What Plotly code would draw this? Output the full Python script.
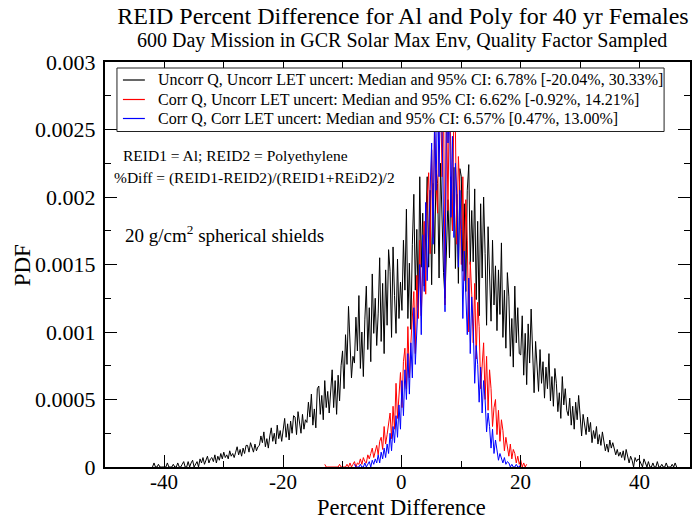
import numpy as np
import plotly.graph_objects as go

# ---------------- data (PDF values in units of 1e-5, histogram bins of 0.25 %) ----------------
BIN_WIDTH = 0.25

black_x0 = -42.0
black_pdf_1e5 = [
    0, 3, 0, 0, 2, 0, 0, 0,
    0, 0, 3, 0, 0, 0, 2, 0,
    0, 3, 0, 0, 2, 4, 0, 0,
    4, 0, 3, 5, 0, 2, 4, 0,
    6, 3, 7, 2, 5, 8, 3, 6,
    7, 4, 9, 3, 8, 5, 10, 6,
    11, 7, 9, 6, 12, 8, 10, 7,
    11, 15, 9, 13, 8, 14, 10, 16,
    16, 11, 18, 14, 11, 17, 12, 15,
    16, 23, 18, 26, 15, 21, 14, 23,
    29, 19, 25, 17, 31, 21, 27, 19,
    27, 36, 22, 32, 20, 34, 25, 38,
    37, 24, 41, 32, 25, 39, 28, 35,
    33, 48, 37, 54, 31, 43, 29, 58,
    60, 39, 53, 35, 64, 44, 56, 40,
    53, 72, 44, 64, 39, 68, 49, 75,
    86, 58, 98, 76, 119, 92, 66, 82,
    77, 111, 86, 127, 73, 100, 67, 109,
    134, 87, 118, 78, 143, 99, 125, 90,
    114, 155, 93, 136, 84, 146, 105, 161,
    145, 96, 163, 127, 99, 154, 110, 137,
    116, 168, 131, 191, 110, 151, 102, 165,
    202, 131, 176, 118, 215, 148, 188, 134,
    171, 215, 148, 205, 135, 210, 158, 220,
    210, 140, 225, 184, 144, 125, 159, 198,
    155, 215, 175, 222, 147, 202, 136, 221,
    215, 145, 195, 130, 205, 224, 150, 190,
    152, 206, 124, 182, 112, 195, 140, 200,
    158, 105, 178, 139, 108, 168, 120, 149,
    101, 146, 113, 166, 96, 131, 88, 144,
    126, 82, 110, 74, 134, 92, 118, 84,
    83, 112, 68, 99, 61, 106, 77, 117,
    82, 55, 93, 72, 56, 87, 62, 78,
    51, 74, 58, 84, 49, 67, 45, 73,
    62, 41, 55, 36, 67, 46, 58, 42,
    38, 51, 31, 45, 28, 48, 35, 53,
    35, 23, 39, 30, 24, 37, 26, 33,
    18, 27, 21, 30, 17, 24, 16, 26,
    19, 12, 17, 11, 20, 14, 18, 13,
    9, 13, 8, 11, 7, 12, 5, 13,
    7, 3, 8, 5, 0, 7, 4, 6,
    5, 2, 0, 6, 3, 0, 4, 0,
    0, 3, 0, 0, 4, 0, 0, 2,
    0, 0, 3, 0, 0, 0, 2, 0,
    3, 0,
]

red_x0 = -13.0
red_pdf_1e5 = [
    2, 0, 0, 0, 0, 0, 0, 0,
    0, 0, 2, 0, 0, 0, 0, 2,
    0, 3, 0, 2, 4, 0, 3, 2,
    6, 2, 7, 4, 3, 9, 6, 10,
    14, 7, 11, 16, 9, 19, 22, 13,
    30, 17, 24, 34, 40, 21, 45, 28,
    62, 36, 52, 70, 44, 78, 88, 58,
    104, 66, 92, 115, 130, 84, 142, 110,
    168, 112, 150, 182, 128, 200, 218, 158,
    235, 170, 255, 210, 188, 272, 280, 215,
    276, 120, 270, 190, 282, 230, 175, 268,
    250, 165, 230, 205, 150, 215, 138, 198,
    168, 100, 152, 128, 92, 136, 80, 122,
    104, 58, 78, 92, 50, 82, 42, 72,
    58, 30, 44, 50, 24, 42, 19, 35,
    27, 12, 22, 16, 8, 17, 6, 13,
    10, 3, 8, 2, 5, 0, 3, 0,
    2,
]

blue_x0 = -8.0
blue_pdf_1e5 = [
    2, 0, 0, 0, 2, 0, 0, 3,
    0, 2, 4, 0, 5, 2, 6, 3,
    9, 3, 11, 6, 14, 7, 17, 10,
    25, 12, 30, 18, 38, 22, 46, 28,
    64, 38, 72, 50, 84, 54, 92, 66,
    118, 76, 104, 135, 150, 98, 172, 130,
    196, 138, 176, 218, 240, 165, 262, 205,
    282, 215, 290, 250, 188, 115, 286, 240,
    268, 185, 245, 170, 225, 200, 148, 205,
    176, 110, 160, 135, 98, 140, 84, 126,
    104, 62, 90, 76, 48, 74, 40, 64,
    50, 26, 40, 30, 14, 28, 10, 20,
    14, 5, 10, 6, 3, 7, 2, 4,
    3, 0, 2, 0, 0, 2, 0, 0,
    2,
]

series_names = [
    "Uncorr Q, Uncorr LET uncert: Median and 95% CI: 6.78% [-20.04%, 30.33%]",
    "Corr Q, Uncorr LET uncert: Median and 95% CI: 6.62% [-0.92%, 14.21%]",
    "Corr Q, Corr LET uncert: Median and 95% CI: 6.57% [0.47%, 13.00%]",
]
series_colors = ["#000000", "#ff0000", "#0000ff"]

x_tick_vals = [-40, -20, 0, 20, 40]
x_tick_text = ["-40", "-20", "0", "20", "40"]
x_minor_vals = [-50, -30, -10, 10, 30]
y_tick_vals = [0, 0.0005, 0.001, 0.0015, 0.002, 0.0025, 0.003]
y_tick_text = ["0", "0.0005", "0.001", "0.0015", "0.002", "0.0025", "0.003"]
y_minor_vals = [0.00025, 0.00075, 0.00125, 0.00175, 0.00225, 0.00275]

# ---------------- geometry ----------------
W, H = 692, 520
PL, PR, PT, PB = 105, 692, 62, 467
FONT = "Liberation Serif"


def px_x(px):
    return (px - PL) / (PR - PL)


def px_y(py):
    return (PB - py) / (PB - PT)


fig = go.Figure()
for x0, vals, name, color in [
    (black_x0, black_pdf_1e5, series_names[0], series_colors[0]),
    (red_x0, red_pdf_1e5, series_names[1], series_colors[1]),
    (blue_x0, blue_pdf_1e5, series_names[2], series_colors[2]),
]:
    xs = x0 + BIN_WIDTH * np.arange(len(vals))
    ys = np.array(vals, dtype=float) * 1e-5
    fig.add_trace(go.Scatter(x=xs, y=ys, mode="lines", name=name, showlegend=False,
                             line=dict(color=color, width=1)))

axis_common = dict(
    showgrid=False, zeroline=False, showline=True, linecolor="black", linewidth=2,
    mirror="ticks", ticks="inside", ticklen=12, tickwidth=1, tickcolor="black",
    tickfont=dict(family=FONT, size=22, color="black"),
)

fig.update_layout(
    width=W, height=H, autosize=False,
    margin=dict(l=PL, r=W - PR, t=PT, b=H - PB, pad=0),
    paper_bgcolor="white", plot_bgcolor="white",
    font=dict(family=FONT, color="black"),
    title=dict(text="REID Percent Difference for Al and Poly for 40 yr Females",
               x=403 / W, xanchor="center", xref="container",
               y=1 - 16 / H, yanchor="middle", yref="container",
               font=dict(family=FONT, size=24, color="black")),
    xaxis=dict(range=[-50, 48.5], tickmode="array", tickvals=x_tick_vals,
               showticklabels=False,
               minor=dict(tickmode="array", tickvals=x_minor_vals, ticks="inside",
                          ticklen=6, tickcolor="black", tickwidth=1),
               **axis_common),
    yaxis=dict(range=[0, 0.003], tickmode="array", tickvals=y_tick_vals,
               ticktext=y_tick_text, ticklabelstandoff=3,
               minor=dict(tickmode="array", tickvals=y_minor_vals, ticks="inside",
                          ticklen=6, tickcolor="black", tickwidth=1),
               **axis_common),
    showlegend=False,
)

# ---------------- legend box drawn by hand (tight row spacing like the original) ----------------
LEG_L, LEG_R, LEG_T, LEG_B = 117, 666, 68, 131.5
leg_rows = [80, 99.5, 118.5]
shapes = [dict(type="rect", xref="paper", yref="paper", layer="above",
               x0=px_x(LEG_L), x1=px_x(LEG_R), y0=px_y(LEG_B), y1=px_y(LEG_T),
               fillcolor="white", line=dict(color="#222222", width=1))]
annotations = []
for ry, name, color in zip(leg_rows, series_names, series_colors):
    shapes.append(dict(type="line", xref="paper", yref="paper", layer="above",
                       x0=px_x(123), x1=px_x(145), y0=px_y(ry), y1=px_y(ry),
                       line=dict(color=color, width=1.2)))
    annotations.append(dict(text=name, x=px_x(156), y=px_y(ry), xanchor="left",
                            yanchor="middle", xref="paper", yref="paper",
                            font=dict(family=FONT, size=16)))

# x tick labels placed at the axis tick values (closer to the axis than Plotly's default)
for v, t in zip(x_tick_vals, x_tick_text):
    annotations.append(dict(text=t, x=v, xref="x", y=px_y(482), yref="paper",
                            xanchor="center", yanchor="middle",
                            font=dict(family=FONT, size=21)))

annotations += [
    dict(text="600 Day Mission in GCR Solar Max Env, Quality Factor Sampled",
         x=px_x(403), y=px_y(40), xanchor="center", yanchor="middle",
         font=dict(family=FONT, size=20)),
    dict(text="REID1 = Al; REID2 = Polyethylene",
         x=px_x(121), y=px_y(155), xanchor="left", yanchor="middle",
         font=dict(family=FONT, size=15.5)),
    dict(text="%Diff = (REID1-REID2)/(REID1+REiD2)/2",
         x=px_x(112), y=px_y(178), xanchor="left", yanchor="middle",
         font=dict(family=FONT, size=15.5)),
    dict(text="20 g/cm<sup>2</sup> spherical shields",
         x=px_x(123), y=px_y(234), xanchor="left", yanchor="middle",
         font=dict(family=FONT, size=19)),
    dict(text="Percent Difference",
         x=px_x(403), y=px_y(507), xanchor="center", yanchor="middle",
         font=dict(family=FONT, size=22.5)),
    dict(text="PDF", textangle=-90,
         x=px_x(22), y=px_y(265), xanchor="center", yanchor="middle",
         font=dict(family=FONT, size=23)),
]
for a in annotations:
    a.setdefault("xref", "paper")
    a.setdefault("yref", "paper")
    a["showarrow"] = False
fig.update_layout(shapes=shapes, annotations=annotations)

fig.write_html("out.html")
